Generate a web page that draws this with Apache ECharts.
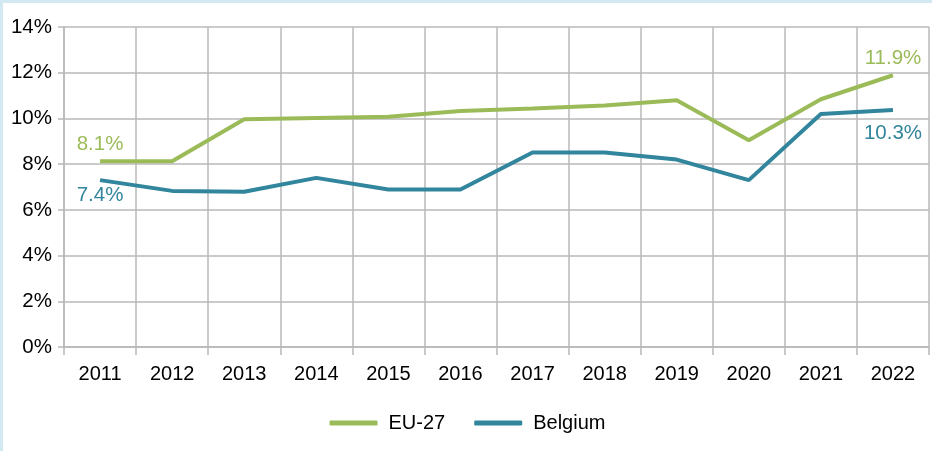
<!DOCTYPE html>
<html>
<head>
<meta charset="utf-8">
<script src="https://cdn.jsdelivr.net/npm/echarts@6/dist/echarts.min.js"></script>
<style>
  html, body { margin: 0; padding: 0; background: #d2e9f3; }
  #chart { position: absolute; left: 3px; top: 3px; width: 929px; height: 448px; background: #fff; }
</style>
</head>
<body>
<div id="chart"></div>
<script>
const years = ['2011', '2012', '2013', '2014', '2015', '2016', '2017', '2018', '2019', '2020', '2021', '2022'];
const eu27 = [8.13, 8.13, 9.96, 10.02, 10.07, 10.33, 10.43, 10.57, 10.8, 9.05, 10.84, 11.89];
const belgium = [7.3, 6.83, 6.79, 7.4, 6.89, 6.89, 8.51, 8.51, 8.2, 7.3, 10.19, 10.37];
// labelled points: index -> text
const euLabels = { 0: '8.1%', 11: '11.9%' };
const beLabels = { 0: '7.4%', 11: '10.3%' };

const green = '#9bbb59';
const teal = '#31859c';
const font = 'Liberation Sans, Arial, sans-serif';

function withLabels(values, labels, color, position, distances) {
  return values.map((v, i) => {
    if (labels[i] === undefined) return v;
    return {
      value: v,
      label: {
        show: true,
        position: position,
        distance: distances[i],
        formatter: labels[i],
        color: color,
        fontSize: 20.5,
        fontFamily: font
      }
    };
  });
}

const chart = echarts.init(document.getElementById('chart'));
const options = {
  animation: false,
  grid: { left: 61, right: 3, top: 24, bottom: 104 },
  legend: {
    left: 'center',
    top: 405,
    itemWidth: 48,
    itemHeight: 5,
    itemGap: 29,
    icon: 'roundRect',
    textStyle: { fontSize: 20, fontFamily: font, color: '#000', padding: [0, 0, 0, 6] },
    data: ['EU-27', 'Belgium']
  },
  xAxis: {
    type: 'category',
    data: years,
    boundaryGap: true,
    axisLine: { lineStyle: { color: '#b8b8b8', width: 1.5 } },
    axisTick: { show: true, length: 8, lineStyle: { color: '#b8b8b8', width: 1.5 } },
    axisLabel: { color: '#000', fontSize: 20, fontFamily: font, margin: 17 },
    splitLine: { show: true, lineStyle: { color: '#b8b8b8', width: 1.5 } }
  },
  yAxis: {
    type: 'value',
    min: 0,
    max: 14,
    interval: 2,
    axisLine: { show: true, lineStyle: { color: '#b8b8b8', width: 1.5 } },
    axisTick: { show: true, length: 6, lineStyle: { color: '#b8b8b8', width: 1.5 } },
    axisLabel: { color: '#000', fontSize: 20.5, fontFamily: font, margin: 12, formatter: '{value}%' },
    splitLine: { show: true, lineStyle: { color: '#b8b8b8', width: 1.5 } }
  },
  series: [
    {
      name: 'EU-27',
      type: 'line',
      data: withLabels(eu27, euLabels, green, 'top', { 0: 6, 11: 6 }),
      symbol: 'circle',
      symbolSize: 0,
      itemStyle: { color: green },
      lineStyle: { color: green, width: 4 }
    },
    {
      name: 'Belgium',
      type: 'line',
      data: withLabels(belgium, beLabels, teal, 'bottom', { 0: 5, 11: 13 }),
      symbol: 'circle',
      symbolSize: 0,
      itemStyle: { color: teal },
      lineStyle: { color: teal, width: 4 }
    }
  ]
};
chart.setOption(options);
</script>
</body>
</html>
